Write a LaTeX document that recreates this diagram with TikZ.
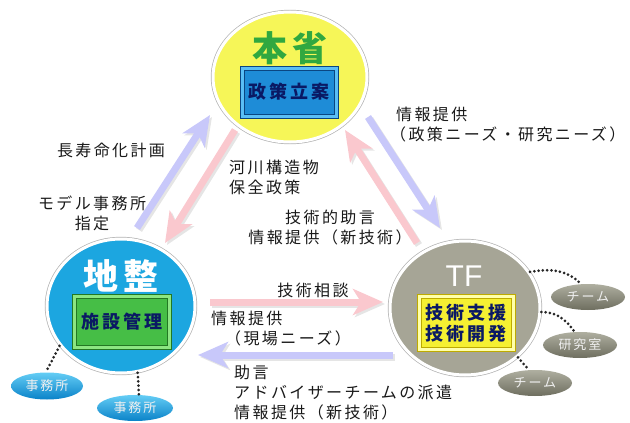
\documentclass[tikz,border=0pt]{standalone}
\usepackage{fontspec}
\setmainfont{Noto Sans CJK JP}
\newfontfamily\jp[LetterSpace=15]{Noto Sans CJK JP}
\newfontfamily\latin{Liberation Sans}
\usetikzlibrary{arrows.meta,shapes.geometric}
\definecolor{hqY}{RGB}{246,246,88}
\definecolor{rbB}{RGB}{28,166,224}
\definecolor{tfG}{RGB}{166,165,150}
\definecolor{ttlG}{RGB}{48,168,64}
\definecolor{arB}{RGB}{200,200,250}
\definecolor{arP}{RGB}{250,200,206}
\definecolor{bbMain}{RGB}{30,140,215}
\definecolor{bbLight}{RGB}{90,190,245}
\definecolor{bbDark}{RGB}{10,70,130}
\definecolor{bgMain}{RGB}{70,190,70}
\definecolor{bgLight}{RGB}{140,230,130}
\definecolor{bgDark}{RGB}{35,120,35}
\definecolor{byMain}{RGB}{245,240,50}
\definecolor{byLight}{RGB}{255,255,170}
\definecolor{byDark}{RGB}{190,170,0}
\definecolor{navy}{RGB}{10,25,100}
\definecolor{sgTop}{RGB}{175,175,160}
\definecolor{sgBot}{RGB}{110,110,95}
\definecolor{sbTop}{RGB}{100,205,245}
\definecolor{sbBot}{RGB}{10,130,200}
\tikzset{
  mainell/.style={ellipse, inner sep=0, fill=#1, draw=white, line width=3pt,
    preaction={draw=black!30, line width=4.4pt}},
  bigarrow/.style={draw=#1, line width=7pt,
    -{Stealth[length=30pt,width=26pt,inset=8pt]},
    preaction={draw=black!10, line width=7pt, -{Stealth[length=30pt,width=26pt,inset=8pt]},
      transform canvas={shift={(2pt,-2pt)}}}},
  dotline/.style={line width=3pt, line cap=round, dash pattern=on 0pt off 4.3pt, black!85},
  bevel/.style n args={3}{rectangle, inner sep=0, fill=#2, draw=#3, line width=1pt,
    path picture={\fill[#1, draw=#3, line width=0.6pt]
      ([shift={(4pt,-4pt)}]path picture bounding box.north west) rectangle
      ([shift={(-4pt,4pt)}]path picture bounding box.south east);},
    font=\jp\bfseries\fontsize{18}{21}\selectfont, text=navy, align=center},
  lbl/.style={inner sep=0, font=\jp\fontsize{16}{20}\selectfont, text=black!90},
  ttl/.style={inner sep=0, font=\jp\bfseries\fontsize{35}{35}\selectfont},
  sat/.style={ellipse, inner sep=0, minimum width=74pt, minimum height=26pt,
    font=\jp\fontsize{13}{13}\selectfont, text=white!88!gray},
  satg/.style={sat, top color=sgTop, bottom color=sgBot},
  satb/.style={sat, top color=sbTop, bottom color=sbBot},
}
\begin{document}
\begin{tikzpicture}[x=1pt,y=-1pt]
\useasboundingbox (0,0) rectangle (630,423);
% arrow end points
\coordinate (a1s) at (137,228); \coordinate (a1e) at (210,115);
\coordinate (a2s) at (235,130); \coordinate (a2e) at (165,243);
\coordinate (a3s) at (368,117); \coordinate (a3e) at (440,228);
\coordinate (a4s) at (417,243); \coordinate (a4e) at (345,130);
\coordinate (a5s) at (210,302); \coordinate (a5e) at (383,302);
\coordinate (a6s) at (393,355); \coordinate (a6e) at (198,355);
\draw[bigarrow=arB] (a1s) -- (a1e);
\draw[bigarrow=arP] (a2s) -- (a2e);
\draw[bigarrow=arB] (a3s) -- (a3e);
\draw[bigarrow=arP] (a4s) -- (a4e);
\draw[bigarrow=arP] (a5s) -- (a5e);
\draw[bigarrow=arB] (a6s) -- (a6e);
% main ellipses
\node[mainell=hqY, minimum width=154pt, minimum height=130pt] (hq) at (290,77) {};
\node[mainell=rbB, minimum width=148pt, minimum height=134pt] (rb) at (121,306) {};
\node[mainell=tfG, minimum width=150pt, minimum height=134pt] (tf) at (465,308) {};
% titles
\node[ttl, text=ttlG] (hqt) at (290,48) {本省};
\node[ttl, text=white] (rbt) at (121,276) {地整};
\node[inner sep=0, font=\latin\fontsize{30}{30}\selectfont, text=white] (tft) at (464,276) {TF};
% boxes
\node[bevel={bbMain}{bbLight}{bbDark}, minimum width=98pt, minimum height=52pt] (hqb) at (289,92) {政策立案};
\node[bevel={bgMain}{bgLight}{bgDark}, minimum width=99pt, minimum height=55pt] (rbb) at (122,322) {施設管理};
\node[bevel={byMain}{byLight}{byDark}, minimum width=98pt, minimum height=57pt] (tfb) at (466,323) {技術支援\\技術開発};
% satellites
\node[satg] (team1) at (588,297) {チーム};
\node[satg] (lab) at (580,345) {研究室};
\node[satg] (team2) at (535,383) {チーム};
\node[satb, minimum width=72pt, minimum height=27pt] (off1) at (47,386) {事務所};
\node[satb, minimum width=76pt] (off2) at (135,408) {事務所};
% dotted connectors
\draw[dotline] (tf.29) to[out=10, in=135] (team1.118);
\draw[dotline] (tf.-3) to[out=0, in=125] (lab.112);
\draw[dotline] (tf.-43) -- (team2.115);
\draw[dotline] (rb.213) -- (off1.95);
\draw[dotline] (rb.-76) -- (off2.73);
% labels
\node[lbl] (l1) at (111,150) {長寿命化計画};
\node[lbl, align=center] (l2) at (92,213) {モデル事務所\\指定};
\node[lbl, align=left, anchor=west] (l3) at (229,177) {河川構造物\\保全政策};
\node[lbl, align=center] (l4) at (330,228) {技術的助言\\情報提供（新技術）};
\node[lbl, align=left, anchor=west] (l5) at (390,125) {\hspace{6pt}情報提供\\（政策ニーズ・研究ニーズ）};
\node[lbl] (l6) at (313,290) {技術相談};
\node[lbl, align=left, anchor=west] (l7) at (211,329) {情報提供\\\hspace{14pt}（現場ニーズ）};
\node[lbl, align=left, anchor=west] (l8) at (234,393) {助言\\アドバイザーチームの派遣\\情報提供（新技術）};
\end{tikzpicture}
\end{document}
